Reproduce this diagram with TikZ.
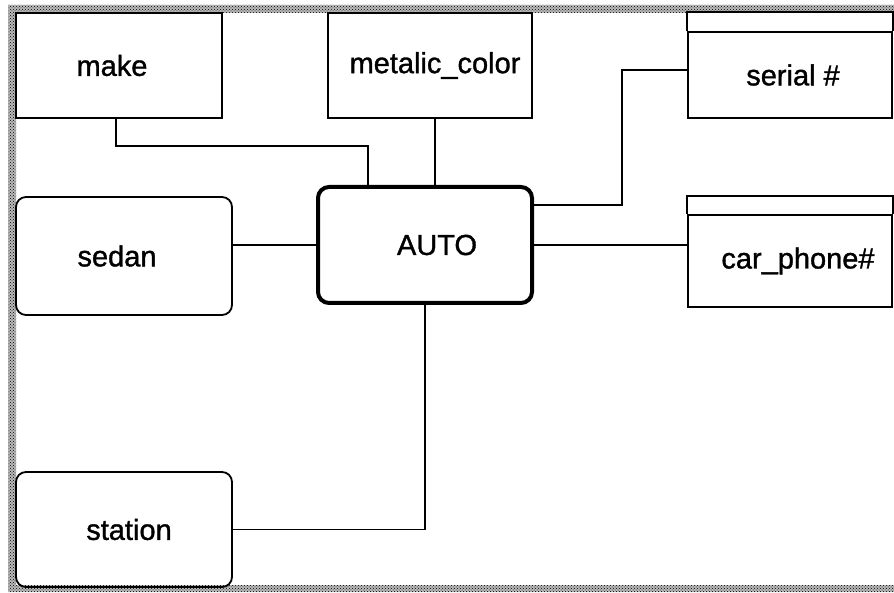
\documentclass[tikz,border=0pt]{standalone}
\usepackage{fontspec}
\setmainfont{Liberation Sans}[BoldFont=Liberation Sans, BoldFeatures={FakeBold=1.2}]
\usetikzlibrary{patterns}
\tikzset{
  box/.style={draw, line width=1.8pt, minimum width=#1, inner sep=0pt, font=\fontsize{29}{34}\selectfont\bfseries},
  rbox/.style={box=#1, rounded corners=10pt},
  link/.style={draw, line width=1.8pt},
}
\begin{document}
\begin{tikzpicture}[x=1pt, y=-1pt]
\useasboundingbox (0,0) rectangle (894,593);
% frame
\fill[gray!55, even odd rule] (8,5) rectangle (894,592) (16,13) rectangle (894,585);
\fill[pattern=crosshatch dots, pattern color=black, even odd rule] (8,5) rectangle (894,592) (16,13) rectangle (894,585);
% boxes
\node[box=206pt, minimum height=105pt] (make) at (119,65.5) {make\hspace*{14pt}};
\node[box=204pt, minimum height=105pt] (metal) at (430,65.5) {\hspace*{10pt}metalic\_color};
\node[box=204pt, minimum height=86pt] (serial) at (790,75) {\hspace*{6pt}serial \#};
\node[rbox=216pt, minimum height=118pt] (sedan) at (124,256) {sedan\hspace*{14pt}};
\node[rbox=216pt, minimum height=115pt] (station) at (124,529.5) {\hspace*{10pt}station};
\node[box=204pt, minimum height=92pt] (phone) at (790,261) {\hspace*{16pt}car\_phone\#};
\node[box=214pt, minimum height=116pt, rounded corners=11pt, line width=4pt] (auto) at (425,245) {\hspace*{24pt}AUTO};
% title strips
\draw[line width=1.8pt] (serial.north west) -- ++(0,-19) -| (serial.north east);
\draw[line width=1.8pt] (phone.north west) -- ++(0,-18) -| (phone.north east);
% connectors
\draw[link] ([xshift=-3pt]make.south) |- ([xshift=-57pt,yshift=39pt]auto.north) -- ([xshift=-57pt]auto.north);
\draw[link] ([xshift=5pt]metal.south) -- ([xshift=10pt]auto.north);
\draw[link] ([yshift=5pt]serial.west) -| ([xshift=88pt,yshift=40pt]auto.east) -- ([yshift=40pt]auto.east);
\draw[link] (auto.east) -- (auto.east -| phone.west);
\draw[link] (auto.west) -- (auto.west -| sedan.east);
\draw[link] (station.east) -| (auto.south);
\end{tikzpicture}
\end{document}
